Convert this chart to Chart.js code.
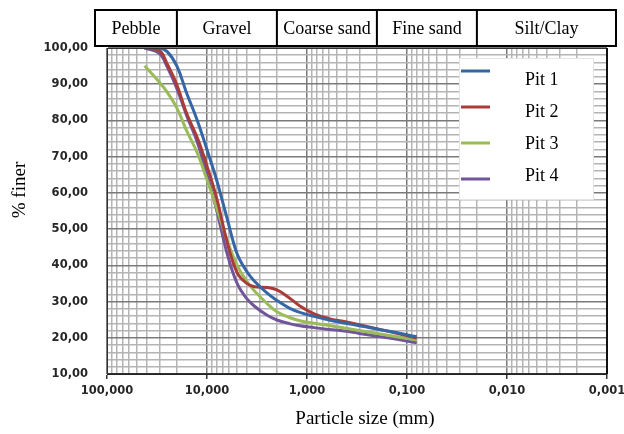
<!DOCTYPE html>
<html>
<head>
<meta charset="utf-8">
<script src="https://cdn.jsdelivr.net/npm/chart.js@4.4.0/dist/chart.umd.min.js"></script>
<style>
  html, body { margin: 0; padding: 0; background: #fff; }
  #wrap { width: 624px; height: 434px; }
</style>
</head>
<body>
<div id="wrap"><canvas id="gradChart" width="624" height="434"></canvas></div>
<script>
// sieve sizes (mm) and % passing for each pit
const sizes = [42, 30, 25, 20, 16, 12.5, 10, 8, 6.3, 5, 4, 3.35, 2.5, 2, 1.5, 1.18, 0.85, 0.6, 0.425, 0.3, 0.15, 0.08];
const pit1 = [100, 100, 99, 95, 87.6, 80, 71.9, 63.5, 53, 43.2, 38.3, 35.6, 32.3, 30.3, 28.2, 27, 25.9, 24.9, 24.1, 23.3, 21.8, 20.3];
const pit2 = [100, 99.3, 95.6, 89.8, 82, 75.2, 67.4, 58.5, 46.5, 38, 35, 34.1, 33.9, 33.2, 31, 28.8, 26.6, 25.3, 24.5, 23.6, 21.7, 19.9];
const pit3 = [95.1, 90.6, 87.8, 83.4, 77.2, 71, 63.6, 55.8, 47, 40, 35.6, 32.9, 29.4, 27.2, 25.6, 24.7, 24, 23.4, 22.7, 22, 20.6, 19.4];
const pit4 = [100, 98.5, 94.8, 88.8, 81.4, 74, 65, 55.2, 43.3, 35, 30.8, 28.7, 26.2, 24.9, 23.9, 23.3, 22.8, 22.3, 21.9, 21.2, 19.9, 18.6];

const pitNames = ['Pit 1', 'Pit 2', 'Pit 3', 'Pit 4'];
const pitColors = ['#3566a6', '#a93b38', '#9bbb59', '#71559a'];

// x axis decades and their labels
const xDecades = [100, 10, 1, 0.1, 0.01, 0.001];
const xTickLabels = ['100,000', '10,000', '1,000', '0,100', '0,010', '0,001'];
// y axis labels every 10
const yTicks = [10, 20, 30, 40, 50, 60, 70, 80, 90, 100];
const yTickLabels = ['10,00', '20,00', '30,00', '40,00', '50,00', '60,00', '70,00', '80,00', '90,00', '100,00'];

// soil classes across the top, split at these sizes (mm)
const soilClasses = ['Pebble', 'Gravel', 'Coarse sand', 'Fine sand', 'Silt/Clay'];
const classBounds = [20, 2, 0.2, 0.02];

const MAJOR = '#7a7a7a';
const MINOR = '#b4b4b4';
const SERIF = "'Liberation Serif', 'Times New Roman', serif";
const tickFont = { family: "'DejaVu Sans', Verdana, sans-serif", size: 11.5, weight: 'bold' };

// log grid: 1..9 x each decade
const xGrid = [];
xDecades.forEach(d => {
  xGrid.push({ value: d, major: true });
  if (d < 100) {
    for (let k = 2; k <= 9; k++) xGrid.push({ value: k * d, major: false });
  }
});

const datasets = [pit1, pit2, pit3, pit4].map((vals, i) => ({
  label: pitNames[i],
  data: sizes.map((s, j) => ({ x: s, y: vals[j] })),
  borderColor: pitColors[i],
  borderWidth: 3,
  pointRadius: 0,
  tension: 0.4,
  fill: false
}));

// header band, axis titles, plot frame and legend box
const decorPlugin = {
  id: 'decor',
  afterDraw(chart) {
    const { ctx, chartArea: a } = chart;
    const xs = chart.scales.x;
    ctx.save();

    // frame around the plot
    ctx.strokeStyle = '#333';
    ctx.lineWidth = 1;
    ctx.strokeRect(a.left + 0.5, a.top + 0.5, a.right - a.left - 1, a.bottom - a.top - 1);
    ctx.lineWidth = 2;
    ctx.strokeStyle = '#111';
    ctx.beginPath();
    ctx.moveTo(a.right, a.top);
    ctx.lineTo(a.right, a.bottom);
    ctx.stroke();

    // soil class band
    const bTop = 10, bBot = a.top - 2;
    const bLeft = a.left - 12, bRight = a.right + 9;
    const edges = [bLeft, ...classBounds.map(b => xs.getPixelForValue(b)), bRight];
    ctx.fillStyle = '#fff';
    ctx.fillRect(bLeft, bTop, bRight - bLeft, bBot - bTop);
    ctx.strokeStyle = '#000';
    ctx.lineWidth = 2;
    ctx.strokeRect(bLeft, bTop, bRight - bLeft, bBot - bTop);
    ctx.beginPath();
    for (let i = 1; i < edges.length - 1; i++) {
      ctx.moveTo(edges[i], bTop);
      ctx.lineTo(edges[i], bBot);
    }
    ctx.stroke();
    ctx.fillStyle = '#000';
    ctx.font = '18px ' + SERIF;
    ctx.textAlign = 'center';
    ctx.textBaseline = 'middle';
    soilClasses.forEach((name, i) => {
      ctx.fillText(name, (edges[i] + edges[i + 1]) / 2, (bTop + bBot) / 2 + 1);
    });

    // axis titles
    ctx.font = '19px ' + SERIF;
    ctx.fillText('Particle size (mm)', (a.left + a.right) / 2 + 8, 419);
    ctx.save();
    ctx.translate(20, 190);
    ctx.rotate(-Math.PI / 2);
    ctx.fillText('% finer', 0, 0);
    ctx.restore();

    // legend
    const lx = a.right - 148, ly = a.top + 10;
    ctx.fillStyle = '#fff';
    ctx.fillRect(lx, ly, 135, 142);
    ctx.strokeStyle = '#e4e4e4';
    ctx.lineWidth = 1;
    ctx.strokeRect(lx + 0.5, ly + 0.5, 134, 141);
    ctx.font = '18px ' + SERIF;
    ctx.textAlign = 'left';
    chart.data.datasets.forEach((ds, i) => {
      ctx.strokeStyle = ds.borderColor;
      ctx.lineWidth = 3;
      ctx.beginPath();
      ctx.moveTo(lx + 2, ly + 13 + i * 36);
      ctx.lineTo(lx + 31, ly + 13 + i * 36);
      ctx.stroke();
      ctx.fillStyle = '#000';
      ctx.fillText(ds.label, lx + 66, ly + 22 + i * 32);
    });
    ctx.restore();
  }
};

new Chart(document.getElementById('gradChart'), {
  type: 'line',
  data: { datasets },
  options: {
    responsive: false,
    animation: false,
    layout: { padding: { top: 48, right: 17, left: 0, bottom: 0 } },
    plugins: { legend: { display: false }, tooltip: { enabled: false } },
    scales: {
      x: {
        type: 'logarithmic',
        reverse: true,
        min: 0.001,
        max: 100,
        afterBuildTicks: axis => { axis.ticks = xGrid.map(t => ({ value: t.value, major: t.major })); },
        afterFit: axis => { axis.height = 60; },
        ticks: {
          autoSkip: false,
          maxRotation: 0,
          padding: 5,
          color: '#262626',
          font: tickFont,
          callback: (v, i, ticks) => {
            const idx = xDecades.indexOf(ticks[i].value);
            return idx >= 0 ? xTickLabels[idx] : '';
          }
        },
        grid: {
          color: c => (c.tick && c.tick.major ? MAJOR : MINOR),
          lineWidth: 1.5,
          tickLength: 5,
          tickColor: c => (c.tick && c.tick.major ? '#333' : 'rgba(0,0,0,0)')
        },
        border: { color: '#222', width: 1 }
      },
      y: {
        min: 10,
        max: 100,
        afterFit: axis => { axis.width = 107; },
        ticks: {
          stepSize: 2,
          autoSkip: false,
          padding: 19,
          color: '#262626',
          font: tickFont,
          callback: v => {
            const idx = yTicks.indexOf(Math.round(v));
            return idx >= 0 ? yTickLabels[idx] : '';
          }
        },
        grid: {
          color: c => (c.tick && Math.round(c.tick.value) % 10 === 0 ? MAJOR : MINOR),
          lineWidth: 1.5,
          drawTicks: false
        },
        border: { color: '#222', width: 1 }
      }
    }
  },
  plugins: [decorPlugin]
});
</script>
</body>
</html>
